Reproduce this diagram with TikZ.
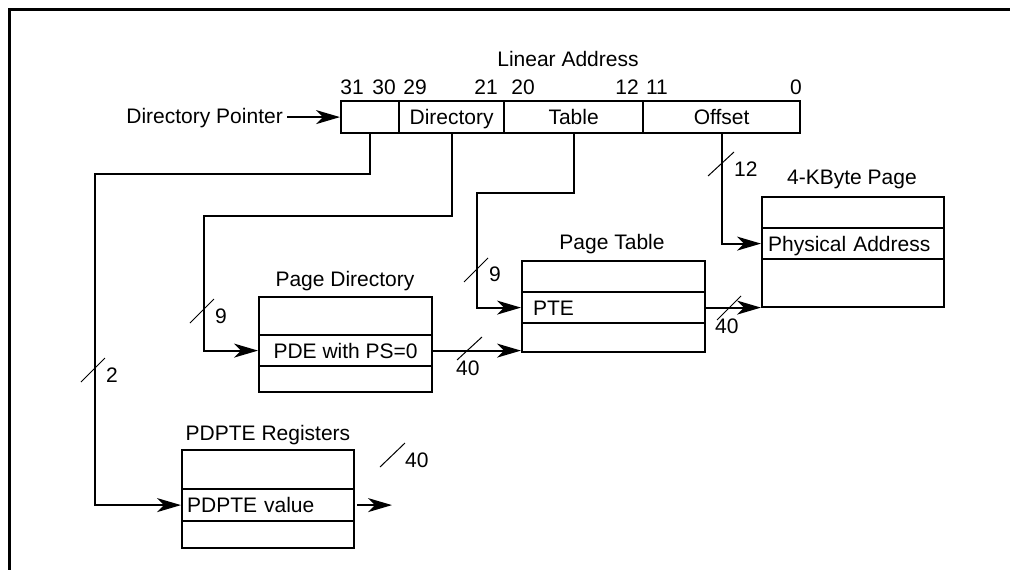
\documentclass[tikz,border=0pt]{standalone}
\usepackage{fontspec}
\setmainfont{Liberation Sans}
\usetikzlibrary{arrows.meta}
\begin{document}
\begin{tikzpicture}[x=1pt,y=-1pt,
  every node/.style={font=\fontsize{21}{24}\selectfont},
  lbl/.style={inner sep=0pt},
  arr/.style={line width=2.2pt,-{Stealth[length=24pt,width=14pt,inset=7pt]}},
  slash/.style={line width=1pt},
  row/.style={draw, line width=2.2pt, anchor=north west, inner ysep=0pt, inner xsep=0pt,
              text height=15pt, text depth=0pt, align=left},
  cell/.style={draw, line width=2.2pt, anchor=north west, inner sep=0pt,
               minimum height=32pt, text height=15pt, text depth=0pt}]
\useasboundingbox (0,0) rectangle (1010,570);
% frame
\draw[line width=2.7pt] (9.3,575) -- (9.3,9.3) -- (1015,9.3);

% linear address
\node[lbl, anchor=base] (la) at (568,66) {Linear Address};
\node[lbl, anchor=base] (b31) at (352,94) {31};
\node[lbl, anchor=base] (b30) at (384,94) {30};
\node[lbl, anchor=base] (b29) at (415,94) {29};
\node[lbl, anchor=base] (b21) at (486,94) {21};
\node[lbl, anchor=base] (b20) at (523,94) {20};
\node[lbl, anchor=base] (b12) at (627,94) {12};
\node[lbl, anchor=base] (b11) at (657,94) {11};
\node[lbl, anchor=base] (b0) at (796,94) {0};

\node[cell, minimum width=58pt] (c1) at (340,100) {};
\node[cell, minimum width=105pt] (c2) at (398,100) {Directory};
\node[cell, minimum width=139pt] (c3) at (503,100) {Table};
\node[cell, minimum width=157pt] (c4) at (642,100) {Offset};

\node[lbl, inner xsep=4pt, anchor=base east] (dp) at (287,123) {Directory Pointer};
\draw[arr] (dp.east |- c1.west) -- (c1.west);

% Page Directory
\node[lbl, anchor=base] (pdl) at (345,286) {Page Directory};
\node[row, minimum width=173pt, minimum height=38pt] (pd1) at (258,296) {};
\node[row, minimum width=173pt, minimum height=31pt, align=center] (pd2) at (258,334) {PDE with PS=0};
\node[row, minimum width=173pt, minimum height=26pt] (pd3) at (258,365) {};

% Page Table
\node[lbl, anchor=base] (ptl) at (612,249) {Page Table};
\node[row, minimum width=183pt, minimum height=31pt] (pt1) at (521,260) {};
\node[row, text width=161pt, inner xsep=11pt, minimum height=31pt] (pt2) at (521,291) {PTE};
\node[row, minimum width=183pt, minimum height=29pt] (pt3) at (521,322) {};

% 4-KByte Page
\node[lbl, anchor=base] (kbl) at (852,184) {4-KByte Page};
\node[row, minimum width=182pt, minimum height=31pt] (kb1) at (761,196) {};
\node[row, text width=170pt, inner xsep=6pt, minimum height=31pt] (kb2) at (761,227) {Physical Address};
\node[row, minimum width=182pt, minimum height=48pt] (kb3) at (761,258) {};

% PDPTE Registers
\node[lbl, anchor=base] (prl) at (268,440) {PDPTE Registers};
\node[row, minimum width=172pt, minimum height=39pt] (pr1) at (181,449) {};
\node[row, text width=162pt, inner xsep=5pt, minimum height=32pt] (pr2) at (181,488) {PDPTE value};
\node[row, minimum width=172pt, minimum height=27pt] (pr3) at (181,520) {};

% connectors
\draw[arr] (c1.south) |- (95,174) |- (pr2.west);
\draw[arr] (c2.south) |- (204,216) |- (pd2.west);
\draw[arr] (c3.south) |- (477,193) |- (pt2.west);
\draw[arr] (c4.south) |- (kb2.west);
\draw[arr] (pd2.east) -- (pd2.east -| pt3.west);
\draw[arr] (pt2.east) -- (pt2.east -| kb3.west);
\coordinate (out) at (392,505);
\draw[arr] ([xshift=2pt]pr2.east) -- (pr2.east -| out);

% slashes and widths
\draw[slash] (81,382) -- (105,358);
\node[lbl, anchor=base west] (w2) at (106,382) {2};
\draw[slash] (190,323) -- (214,299);
\node[lbl, anchor=base west] (w9a) at (215,323) {9};
\draw[slash] (457,360) -- (482,337);
\node[lbl, anchor=base west] (w40a) at (456,375) {40};
\draw[slash] (464,282) -- (488,258);
\node[lbl, anchor=base west] (w9b) at (489,281) {9};
\draw[slash] (708,176) -- (734,152);
\node[lbl, anchor=base west] (w12) at (734,176) {12};
\draw[slash] (717,320) -- (741,296);
\node[lbl, anchor=base west] (w40b) at (715,333) {40};
\draw[slash] (380,467) -- (405,443);
\node[lbl, anchor=base west] (w40c) at (405,467) {40};
\end{tikzpicture}
\end{document}
